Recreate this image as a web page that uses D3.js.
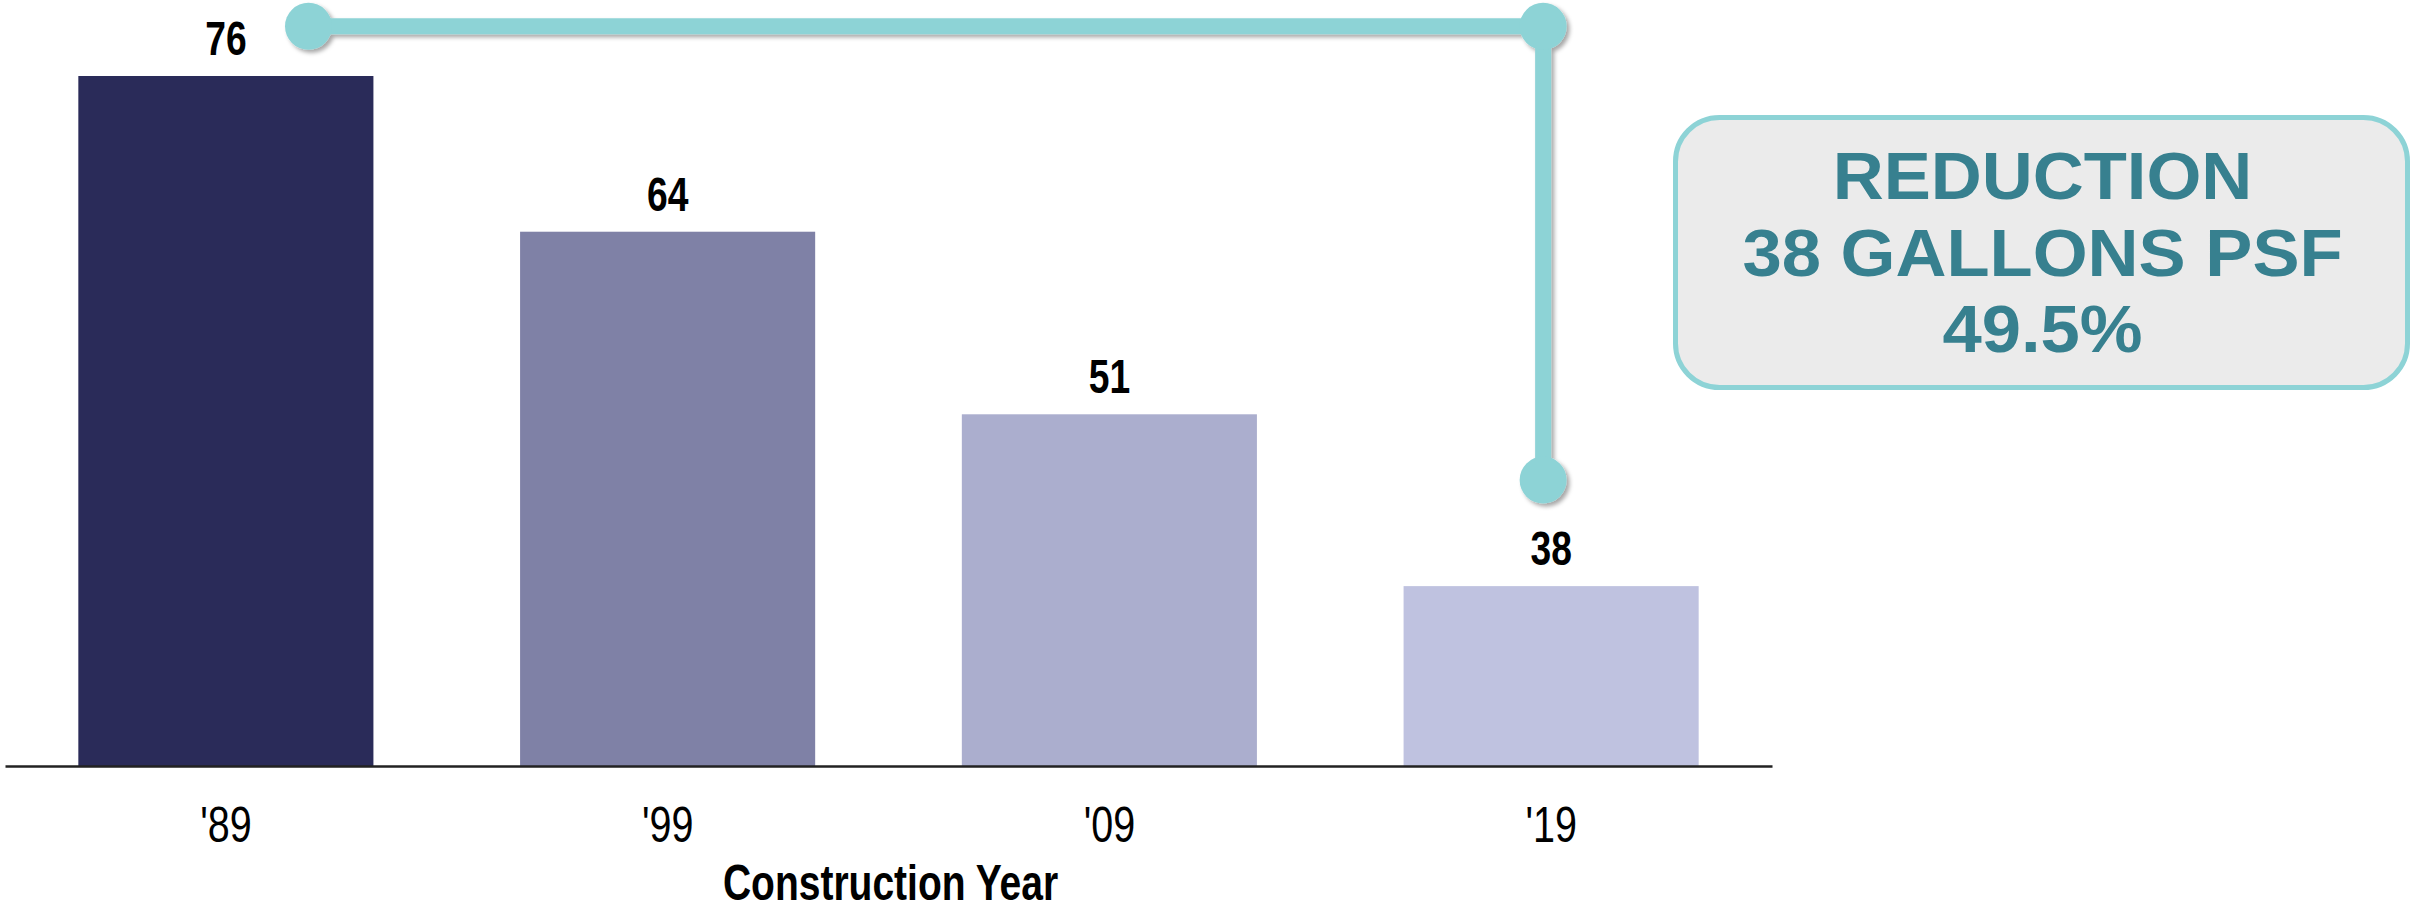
<!DOCTYPE html>
<html>
<head>
<meta charset="utf-8">
<script src="https://cdn.jsdelivr.net/npm/d3@7"></script>
<style>
  html, body { margin: 0; padding: 0; background: #ffffff; }
  svg { display: block; }
  text { font-family: "Liberation Sans", Arial, Helvetica, sans-serif; }
</style>
</head>
<body>
<svg id="chart" width="2412" height="912"></svg>
<script>
// ---- data ----
const categories = ["'89", "'99", "'09", "'19"];
const values = [76, 64.4, 50.8, 38];
const valueLabels = ["76", "64", "51", "38"];
const barColors = ["#2a2b59", "#7f81a6", "#abaece", "#bfc2e0"];
const axisTitle = "Construction Year";
const calloutLines = ["REDUCTION", "38 GALLONS PSF", "49.5%"];
const bracketValues = [79.7, 45.9];   // top and bottom of the reduction bracket

// ---- layout ----
const svg = d3.select("#chart");
const baseY = 766;

const x = d3.scaleBand()
  .domain(categories)
  .range([5, 1772])
  .paddingInner(0.332)
  .paddingOuter(0.166);

const y = d3.scaleLinear()
  .domain([24.6, 76])
  .range([baseY, 76]);

// drop shadow filter
const defs = svg.append("defs");
const f = defs.append("filter").attr("id", "shadow")
  .attr("x", "-20%").attr("y", "-20%").attr("width", "140%").attr("height", "140%");
f.append("feDropShadow")
  .attr("dx", 3).attr("dy", 3).attr("stdDeviation", 2.2)
  .attr("flood-color", "#000").attr("flood-opacity", 0.35);

// bars
svg.append("g").selectAll("rect")
  .data(values)
  .join("rect")
  .attr("x", (d, i) => x(categories[i]))
  .attr("y", d => y(d))
  .attr("width", x.bandwidth())
  .attr("height", d => baseY - y(d))
  .attr("fill", (d, i) => barColors[i]);

// value labels
svg.append("g").selectAll("text")
  .data(values)
  .join("text")
  .attr("transform", (d, i) => `translate(${x(categories[i]) + x.bandwidth() / 2},${y(d) - 21}) scale(0.76,1)`)
  .attr("text-anchor", "middle")
  .attr("font-size", 49)
  .attr("font-weight", "bold")
  .attr("fill", "#000")
  .text((d, i) => valueLabels[i]);

// x axis
const xAxis = d3.axisBottom(x).tickSize(0).tickPadding(0);
const gx = svg.append("g")
  .attr("transform", `translate(0,${baseY})`)
  .call(xAxis);
gx.select(".domain")
  .attr("stroke", "#222")
  .attr("stroke-width", 2.5);
gx.selectAll(".tick text")
  .attr("y", 76)
  .attr("dy", 0)
  .attr("transform", "scale(0.79,1)")
  .attr("font-size", 50)
  .attr("font-family", "'Liberation Sans', Arial, sans-serif")
  .attr("fill", "#000");

// axis title
svg.append("text")
  .attr("transform", `translate(${(x.range()[0] + x.range()[1]) / 2 + 2},900) scale(0.78,1)`)
  .attr("text-anchor", "middle")
  .attr("font-size", 50)
  .attr("font-weight", "bold")
  .attr("fill", "#000")
  .text(axisTitle);

// bracket connector
const leftX = x(categories[0]) + x.bandwidth() * 0.78;
const rightX = x(categories[3]) + x.bandwidth() / 2 - 8;
const topY = y(bracketValues[0]);
const botY = y(bracketValues[1]);
const teal = "#8dd3d6";
const br = svg.append("g").attr("filter", "url(#shadow)");
br.append("path")
  .attr("d", d3.line()([[leftX, topY], [rightX, topY], [rightX, botY]]))
  .attr("fill", "none")
  .attr("stroke", teal)
  .attr("stroke-width", 16);
br.selectAll("circle")
  .data([[leftX, topY], [rightX, topY], [rightX, botY]])
  .join("circle")
  .attr("cx", d => d[0])
  .attr("cy", d => d[1])
  .attr("r", 23.5)
  .attr("fill", teal);

// callout box
const box = { x0: 1673, y0: 115, x1: 2410, y1: 390, sw: 5 };
svg.append("rect")
  .attr("x", box.x0 + box.sw / 2)
  .attr("y", box.y0 + box.sw / 2)
  .attr("width", box.x1 - box.x0 - box.sw)
  .attr("height", box.y1 - box.y0 - box.sw)
  .attr("rx", 44)
  .attr("ry", 44)
  .attr("fill", "#ebebeb")
  .attr("stroke", teal)
  .attr("stroke-width", box.sw);

const cx = (box.x0 + box.x1) / 2 + 1;
svg.append("g").selectAll("text")
  .data(calloutLines)
  .join("text")
  .attr("transform", (d, i) => `translate(${cx},${199 + i * 76.5}) scale(1.07,1)`)
  .attr("text-anchor", "middle")
  .attr("font-size", 66)
  .attr("font-weight", "bold")
  .attr("fill", "#37808f")
  .text(d => d);
</script>
</body>
</html>
